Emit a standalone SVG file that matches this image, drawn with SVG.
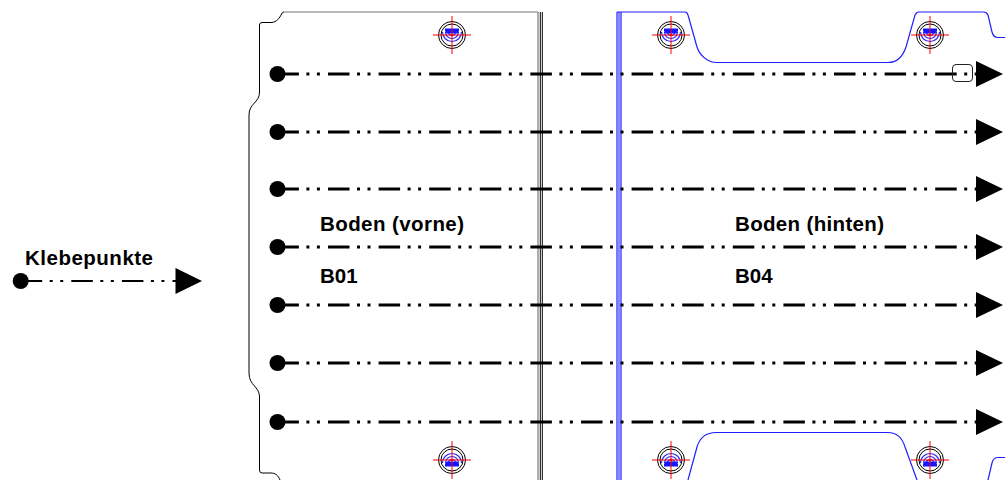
<svg xmlns="http://www.w3.org/2000/svg" xmlns:xlink="http://www.w3.org/1999/xlink" width="1005" height="480" viewBox="0 0 1005 480">
<style>
.t{font-family:"Liberation Sans",Arial,sans-serif;font-weight:700;font-size:20.5px;fill:#000}
.k{fill:none;stroke:#000;stroke-width:1}
.g{fill:none;stroke:#777;stroke-width:1.2}
.b{fill:none;stroke:#2020ff;stroke-width:1.2}
.lb{fill:none;stroke:#8888ff;stroke-width:2}
.a{fill:none;stroke:#2a2aff;stroke-width:1.2}
.r{stroke:#f00;stroke-width:1;fill:none}
.c{fill:none;stroke:#000;stroke-width:3;stroke-dasharray:21.5 7.5 3 7.5 3 8.1}
.c2{fill:none;stroke:#000;stroke-width:2;stroke-dasharray:21.5 7.5 3 7.5 3 8.1}
</style>
<defs>
<g id="mark">
<circle class="k" r="13.5"/>
<circle class="k" r="11"/>
<path class="a" d="M-9.500-3A9.500 9.500 0 0 0 9.500-3M-6.500-3A6.500 6.500 0 0 0 6.500-3M-3.500-3A3.500 3.500 0 0 0 3.500-3"/>
<path d="M-7-6.500H7V-4L5.500-1.500H-5.500L-7-4Z" fill="#1515ff"/>
<path class="r" d="M-19 0H19M0-19V19"/>
<circle r="1.300" fill="#f00"/>
</g>
</defs>
<g id="panel-front">
<path class="k" d="M280 480C278 475 275 473 271 473H262Q259.500 473 259.500 470V397C259.500 386 249 386 249 373V115C249 103 259.500 103 259.500 92V25Q259.500 22.500 262 22.500H271C277 22.500 280 17 281 15Q282 12 284 12"/>
<path class="g" d="M283 12H538"/>
<path class="g" d="M538 12V480"/>
<path d="M540.300 12V480M542.300 12V480" stroke="#000" stroke-width="1" fill="none"/>
<use xlink:href="#mark" href="#mark" transform="translate(452,35)"/>
<use xlink:href="#mark" href="#mark" transform="translate(452,460) scale(1,-1)"/>
</g>
<g id="panel-rear">
<path class="lb" d="M619 12V480"/>
<path class="b" d="M617 12V480M621 12V480"/>
<path class="b" d="M617 12H685C687 12 687.500 13 688 15L697 47C700 56 708 62.500 717 62.500H888C897 62.500 903 56 906 47L915 15C916 13 917 12 919 12H984C986 12 987 13 988 15L992 32C993 36 995 37.500 998 37.500H1005"/>
<path class="b" d="M688 480L697 447C700 437 706 432.500 716 432.500H888C897 432.500 902 437 905 447L917 480"/>
<path class="b" d="M988 480L992 463C993 459 995 457.500 998 457.500H1005"/>
<use xlink:href="#mark" href="#mark" transform="translate(671,35)"/>
<use xlink:href="#mark" href="#mark" transform="translate(671,460) scale(1,-1)"/>
<use xlink:href="#mark" href="#mark" transform="translate(930,35)"/>
<use xlink:href="#mark" href="#mark" transform="translate(930,460) scale(1,-1)"/>
</g>
<g id="connectors">
<path class="c" d="M277.400 74H976"/>
<path class="c" d="M277.400 132H976"/>
<path class="c" d="M277.400 189H976"/>
<path class="c" d="M277.400 247H976"/>
<path class="c" d="M277.400 305H976"/>
<path class="c" d="M277.400 363H976"/>
<path class="c" d="M277.400 422H976"/>
<path class="c2" d="M20.700 281H176"/>
</g>
<g id="dots" fill="#000">
<circle cx="277.500" cy="74" r="8"/>
<circle cx="277.500" cy="132" r="8"/>
<circle cx="277.500" cy="189" r="8"/>
<circle cx="277.500" cy="247" r="8"/>
<circle cx="277.500" cy="305" r="8"/>
<circle cx="277.500" cy="363" r="8"/>
<circle cx="277.500" cy="422" r="8"/>
<circle cx="20.700" cy="281" r="8"/>
</g>
<g id="arrows" fill="#000">
<path d="M976 61L1003 74L976 87Z"/>
<path d="M976 119L1003 132L976 145Z"/>
<path d="M976 176L1003 189L976 202Z"/>
<path d="M976 234L1003 247L976 260Z"/>
<path d="M976 292L1003 305L976 318Z"/>
<path d="M976 350L1003 363L976 376Z"/>
<path d="M976 409L1003 422L976 435Z"/>
<path d="M175.500 268L202 281L175.500 294Z"/>
</g>
<g id="box-end"><rect x="952.500" y="64.500" width="20" height="17" rx="3.500" fill="none" stroke="#222" stroke-width="1"/></g>
<g id="labels">
<text class="t" x="25" y="265" textLength="128" lengthAdjust="spacing">Klebepunkte</text>
<text class="t" x="320" y="231" textLength="144" lengthAdjust="spacing">Boden (vorne)</text>
<text class="t" x="320" y="283">B01</text>
<text class="t" x="735" y="231" textLength="149" lengthAdjust="spacing">Boden (hinten)</text>
<text class="t" x="735" y="283">B04</text>
</g>
</svg>
